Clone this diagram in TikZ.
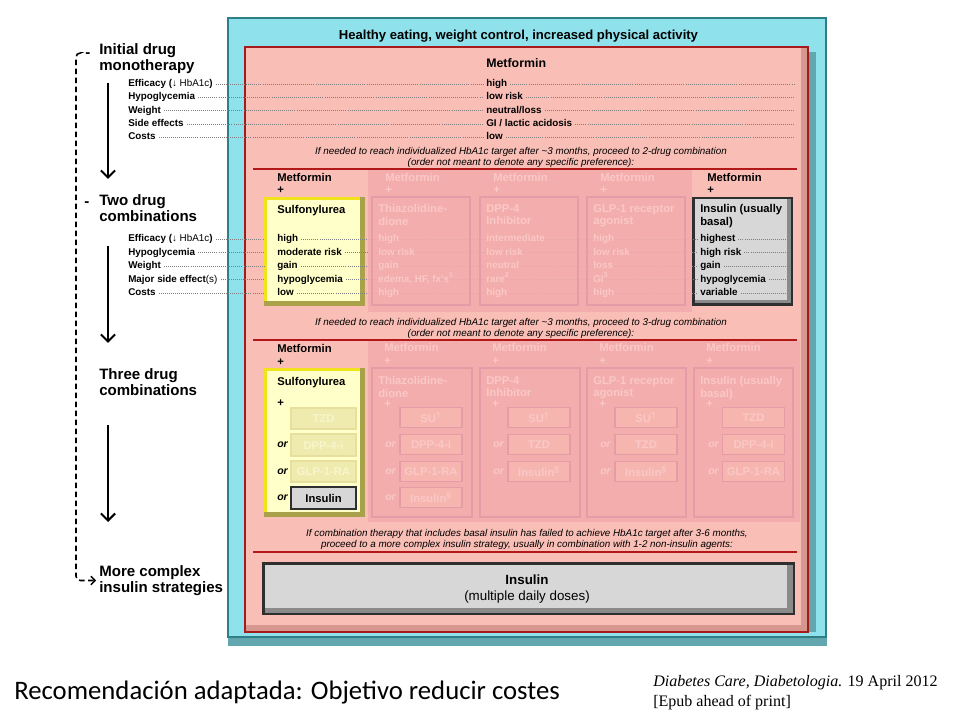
\documentclass[tikz,border=0pt]{standalone}
\usepackage{fontspec}
\setmainfont{Liberation Sans}
\newfontfamily\slidefont{Carlito}
\newfontfamily\reffont{Liberation Serif}
\usetikzlibrary{positioning, arrows.meta, calc}
\definecolor{cyanface}{HTML}{8FE2EB}
\definecolor{tealshade}{HTML}{62A6AE}
\definecolor{tealline}{HTML}{2E7F86}
\definecolor{redline}{HTML}{A51B1B}
\definecolor{salmon}{HTML}{F9BEB6}
\definecolor{salmonshade}{HTML}{D6978F}
\definecolor{divred}{HTML}{B31818}
\definecolor{yelface}{HTML}{FFFFC9}
\definecolor{yelline}{HTML}{F2E41C}
\definecolor{yelshade}{HTML}{A9A24A}
\definecolor{grayface}{HTML}{D7D7D7}
\definecolor{grayshade}{HTML}{8A8A8A}
\definecolor{grayline}{HTML}{2F2F2F}
\definecolor{fadefill}{HTML}{F3ACAB}
\definecolor{fadeline}{HTML}{E69CA6}
\definecolor{fadetext}{HTML}{FAC8C6}
\definecolor{fadesal}{HTML}{F6B6AF}
\definecolor{fadeyel}{HTML}{EFEBAF}
\definecolor{fadeyelline}{HTML}{E6E09C}
\definecolor{fadeyeltext}{HTML}{F8F5CC}
\tikzset{
	lbl/.style={
			anchor=west,
			inner sep=0pt,
			text height=5.1pt,
			text depth=1.4pt,
			font=\bfseries\fontsize{7}{8}\selectfont
		},
	fadelbl/.style={
			lbl,
			text=fadetext
		},
	head/.style={
			anchor=west,
			inner sep=0pt,
			text height=6pt,
			text depth=1.6pt,
			font=\bfseries\fontsize{8}{9.4}\selectfont
		},
	fadehead/.style={
			head,
			text=fadetext
		},
	boxtitle/.style={
			anchor=north west,
			inner sep=0pt,
			align=left,
			font=\bfseries\fontsize{8}{8.6}\selectfont
		},
	stage/.style={
			anchor=west,
			inner sep=0pt,
			align=left,
			font=\bfseries\fontsize{10.7}{11.4}\selectfont
		},
	note/.style={
			inner sep=0pt,
			align=center,
			font=\itshape\fontsize{7}{7.8}\selectfont
		},
	ornode/.style={
			lbl,
			font=\bfseries\itshape\fontsize{7.5}{9}\selectfont
		},
	pill/.style={
			draw,
			line width=1.2pt,
			minimum width=1.55cm,
			minimum height=0.5cm,
			inner sep=0pt,
			font=\bfseries\fontsize{8}{9}\selectfont
		},
	fadepill/.style={
			pill,
			draw=fadeline,
			fill=fadesal,
			text=fadetext
		},
	yelpill/.style={
			pill,
			minimum width=1.62cm,
			minimum height=0.54cm,
			draw=fadeyelline,
			fill=fadeyel,
			text=fadeyeltext
		},
	inspill/.style={
			pill,
			minimum width=1.62cm,
			minimum height=0.54cm,
			draw=grayline,
			line width=1.6pt,
			fill=grayface,
			text=black
		},
	dotline/.style={
			densely dotted,
			line width=0.45pt,
			black!50
		},
	divider/.style={
			line width=1.5pt,
			divred
		},
	downarrow/.style={
			line width=1.5pt,
			-{Straight Barb[length=5pt,width=10pt]}
		},
	dashpath/.style={
			line width=1.1pt,
			dash pattern=on 4pt off 2.4pt,
			rounded corners=3pt,
			-{Straight Barb[length=3pt,width=6pt]}
		}
}

\begin{document}
\begin{tikzpicture}[x=0.025cm, y=-0.025cm]
\useasboundingbox (0,0) rectangle (960,720);

% frames
\fill[tealshade] (228,18) rectangle (827,646);
\draw[tealline, line width=0.8pt, fill=cyanface] (228,18) rectangle (826,637);
\fill[tealshade] (250,52) rectangle (816,632);
\fill[salmonshade] (245,47) rectangle (808,632);
\fill[salmon] (245,47) rectangle (801,625);
\draw[redline, line width=1.4pt] (245,47) rectangle (808,632);
\node[head, anchor=center, font=\bfseries\fontsize{9.3}{10}\selectfont] (top) at (518.5,36) {Healthy eating, weight control, increased physical activity};

\draw[divider] (253,169) -- (797,169);
\draw[divider] (253,340) -- (797,340);
\draw[divider] (253,552) -- (797,552);

% monotherapy
\node[head, font=\bfseries\fontsize{8.8}{10}\selectfont] (met) at (486,64) {Metformin};
\node[lbl] (m1) at (128,84) {Efficacy ({\mdseries ↓ HbA1c})};
\node[lbl] (m2) at (128,97) {Hypoglycemia};
\node[lbl] (m3) at (128,110.5) {Weight};
\node[lbl] (m4) at (128,124) {Side effects};
\node[lbl] (m5) at (128,137) {Costs};
\node[lbl] (mv1) at (486,84) {high};
\node[lbl] (mv2) at (486,97) {low risk};
\node[lbl] (mv3) at (486,110.5) {neutral/loss};
\node[lbl] (mv4) at (486,124) {GI / lactic acidosis};
\node[lbl] (mv5) at (486,137) {low};
\foreach \i/\y in {1/84,2/97,3/110.5,4/124,5/137}
  \coordinate (me\i) at (795,\y);
\foreach \i in {1,...,5} {
  \draw[dotline, shorten <=2pt, shorten >=2pt] (m\i.east) -- (mv\i.west);
  \draw[dotline, shorten <=2pt] (mv\i.east) -- (me\i);
}
\node[note] (n1) at (521,157.5) {If needed to reach individualized HbA1c target after \textasciitilde3 months, proceed to 2-drug combination\\(order not meant to denote any specific preference):};

% two drug combinations
\fill[yelshade] (264,197) rectangle (365,306);
\fill[yelline] (264,197) rectangle (360,301);
\fill[yelface] (267,200) rectangle (360,301);
\fill[grayline] (692,197) rectangle (793,306);
\fill[grayshade] (694.5,199.5) rectangle (790.5,303.5);
\fill[grayface] (694.5,199.5) rectangle (787,300);

\node[head] (h1) at (277,178) {Metformin};
\node[head] (h2) at (277,190) {+};
\node[head] (su) at (277,210) {Sulfonylurea};
\node[head] (h3) at (707,178) {Metformin};
\node[head] (h4) at (707,190) {+};
\node[boxtitle] (ins) at (700,204.5) {Insulin (usually\\basal)};

\node[lbl] (d1) at (128,239) {Efficacy ({\mdseries ↓ HbA1c})};
\node[lbl] (d2) at (128,252.5) {Hypoglycemia};
\node[lbl] (d3) at (128,266) {Weight};
\node[lbl] (d4) at (128,279.5) {Major side effect{\mdseries (s)}};
\node[lbl] (d5) at (128,293) {Costs};
\node[lbl] (s1) at (277,239) {high};
\node[lbl] (s2) at (277,252.5) {moderate risk};
\node[lbl] (s3) at (277,266) {gain};
\node[lbl] (s4) at (277,279.5) {hypoglycemia};
\node[lbl] (s5) at (277,293) {low};
\node[lbl] (v1) at (700,239) {highest};
\node[lbl] (v2) at (700,252.5) {high risk};
\node[lbl] (v3) at (700,266) {gain};
\node[lbl] (v4) at (700,279.5) {hypoglycemia};
\node[lbl] (v5) at (700,293) {variable};
\foreach \i/\y in {1/239,2/252.5,3/266,4/279.5,5/293} {
  \coordinate (yl\i) at (264,\y);
  \coordinate (ie\i) at (789,\y);
}
\foreach \i in {1,...,5} {
  \draw[dotline, shorten <=2pt] (d\i.east) -- (yl\i);
  \draw[dotline, shorten <=2pt, shorten >=2pt] (s\i.east) -- (v\i.west);
  \draw[dotline, shorten <=2pt] (v\i.east) -- (ie\i);
}

% faded two drug options
\fill[fadefill, opacity=0.9] (368,170) rectangle (692,312);
\draw[fadeline, line width=1.2pt] (372,197) rectangle (470,305);
\draw[fadeline, line width=1.2pt] (480,197) rectangle (578,305);
\draw[fadeline, line width=1.2pt] (587,197) rectangle (685,305);
\node[fadehead] (fh1) at (385,178) {Metformin};
\node[fadehead] (fh2) at (385,190) {+};
\node[fadehead] (fh3) at (493,178) {Metformin};
\node[fadehead] (fh4) at (493,190) {+};
\node[fadehead] (fh5) at (600,178) {Metformin};
\node[fadehead] (fh6) at (600,190) {+};
\node[boxtitle, text=fadetext] (tz) at (378,204.5) {Thiazolidine-\\dione};
\node[boxtitle, text=fadetext] (dp) at (486,204.5) {DPP-4\\Inhibitor};
\node[boxtitle, text=fadetext] (gl) at (593,204.5) {GLP-1 receptor\\agonist};
\node[fadelbl] (t1) at (378,239) {high};
\node[fadelbl] (t2) at (378,252.5) {low risk};
\node[fadelbl] (t3) at (378,266) {gain};
\node[fadelbl] (t4) at (378,279.5) {edema, HF, fx's\textsuperscript{1}};
\node[fadelbl] (t5) at (378,293) {high};
\node[fadelbl] (p1) at (486,239) {intermediate};
\node[fadelbl] (p2) at (486,252.5) {low risk};
\node[fadelbl] (p3) at (486,266) {neutral};
\node[fadelbl] (p4) at (486,279.5) {rare\textsuperscript{2}};
\node[fadelbl] (p5) at (486,293) {high};
\node[fadelbl] (g1) at (593,239) {high};
\node[fadelbl] (g2) at (593,252.5) {low risk};
\node[fadelbl] (g3) at (593,266) {loss};
\node[fadelbl] (g4) at (593,279.5) {GI\textsuperscript{3}};
\node[fadelbl] (g5) at (593,293) {high};

\node[note] (n2) at (521,328.5) {If needed to reach individualized HbA1c target after \textasciitilde3 months, proceed to 3-drug combination\\(order not meant to denote any specific preference):};

% three drug combinations
\fill[yelshade] (264,368) rectangle (365,517);
\fill[yelline] (264,368) rectangle (360,512);
\fill[yelface] (267,371) rectangle (360,512);
\node[head] (h5) at (277,349) {Metformin};
\node[head] (h6) at (277,362) {+};
\node[head] (su3) at (277,382) {Sulfonylurea};
\node[head] (h7) at (277,403) {+};
\node[yelpill] (y1) at (323.5,418.5) {TZD};
\node[yelpill] (y2) at (323.5,445) {DPP-4-i};
\node[yelpill] (y3) at (323.5,471.5) {GLP-1-RA};
\node[inspill] (y4) at (323.5,498) {Insulin};
\node[ornode] (o1) at (277,445) {or};
\node[ornode] (o2) at (277,471.5) {or};
\node[ornode] (o3) at (277,498) {or};

% faded three drug options
\fill[fadefill, opacity=0.9] (368,341) rectangle (800,522);
\draw[fadeline, line width=1.2pt] (372,368) rectangle (472,517);
\draw[fadeline, line width=1.2pt] (480,368) rectangle (580,517);
\draw[fadeline, line width=1.2pt] (587,368) rectangle (686,517);
\draw[fadeline, line width=1.2pt] (694,368) rectangle (793,517);
\node[fadehead] (c1) at (384,348) {Metformin};
\node[fadehead] (c2) at (384,361) {+};
\node[fadehead] (c3) at (492,348) {Metformin};
\node[fadehead] (c4) at (492,361) {+};
\node[fadehead] (c5) at (599,348) {Metformin};
\node[fadehead] (c6) at (599,361) {+};
\node[fadehead] (c7) at (706,348) {Metformin};
\node[fadehead] (c8) at (706,361) {+};
\node[boxtitle, text=fadetext] (tz3) at (378,376.5) {Thiazolidine-\\dione};
\node[boxtitle, text=fadetext] (dp3) at (486,376.5) {DPP-4\\Inhibitor};
\node[boxtitle, text=fadetext] (gl3) at (593,376.5) {GLP-1 receptor\\agonist};
\node[boxtitle, text=fadetext] (in3) at (700,376.5) {Insulin (usually\\basal)};
\node[fadehead] (c9) at (384,404) {+};
\node[fadehead] (c10) at (492,404) {+};
\node[fadehead] (c11) at (599,404) {+};
\node[fadehead] (c12) at (706,404) {+};

\node[fadepill] (k1) at (431,417.5) {SU\textsuperscript{†}};
\node[fadepill] (k2) at (431,444.5) {DPP-4-i};
\node[fadepill] (k3) at (431,471.5) {GLP-1-RA};
\node[fadepill] (k4) at (431,497.5) {Insulin\textsuperscript{§}};
\node[fadepill] (k5) at (539,417.5) {SU\textsuperscript{†}};
\node[fadepill] (k6) at (539,444.5) {TZD};
\node[fadepill] (k7) at (539,471.5) {Insulin\textsuperscript{§}};
\node[fadepill] (k8) at (646,417.5) {SU\textsuperscript{†}};
\node[fadepill] (k9) at (646,444.5) {TZD};
\node[fadepill] (k10) at (646,471.5) {Insulin\textsuperscript{§}};
\node[fadepill] (k11) at (753.5,417.5) {TZD};
\node[fadepill] (k12) at (753.5,444.5) {DPP-4-i};
\node[fadepill] (k13) at (753.5,471.5) {GLP-1-RA};
\foreach \x in {385,493,600,708}
  \foreach \y in {444.5,471.5}
    \node[ornode, text=fadetext] at (\x,\y) {or};
\node[ornode, text=fadetext] (o4) at (385,497.5) {or};

\node[note] (n3) at (527,539.5) {If combination therapy that includes basal insulin has failed to achieve HbA1c target after 3-6 months,\\proceed to a more complex insulin strategy, usually in combination with 1-2 non-insulin agents:};

% complex insulin
\fill[grayline] (262,562) rectangle (795,615);
\fill[grayshade] (264.5,564.5) rectangle (792.5,612.5);
\fill[grayface] (264.5,564.5) rectangle (787,608);
\node[inner sep=0pt, align=center, font=\fontsize{9.5}{11.4}\selectfont] (mdi) at (527,589) {{\bfseries Insulin}\\(multiple daily doses)};

% stages on the left
\node[stage] (b1) at (85,55) {-};
\node[stage] (b2) at (84,204) {-};
\node[stage] (st1) at (99,59) {Initial drug\\monotherapy};
\node[stage] (st2) at (99,208.5) {Two drug\\combinations};
\node[stage] (st3) at (99,382.5) {Three drug\\combinations};
\node[stage] (st4) at (99,580.5) {More complex\\insulin strategies};
\coordinate (dtop) at (80,53);
\draw[dashpath, shorten >=2pt] (dtop) -- (76,53) |- (st4.west);
\coordinate (a1) at (108,83);
\coordinate (a2) at (108,179);
\coordinate (a3) at (108,246);
\coordinate (a4) at (108,343);
\coordinate (a5) at (108,425);
\coordinate (a6) at (108,522);
\draw[downarrow] (a1) -- (a2);
\draw[downarrow] (a3) -- (a4);
\draw[downarrow] (a5) -- (a6);

% caption
\node[anchor=west, inner sep=0pt, font=\slidefont\fontsize{19}{22}\selectfont] (cap) at (14,693) {Recomendación adaptada: Objetivo reducir costes};
\node[anchor=west, inner sep=0pt, align=left, font=\reffont\fontsize{11.4}{14.2}\selectfont] (ref) at (653,693) {\textit{Diabetes Care, Diabetologia.} 19 April 2012\\{[Epub ahead of print]}};
\end{tikzpicture}
\end{document}
